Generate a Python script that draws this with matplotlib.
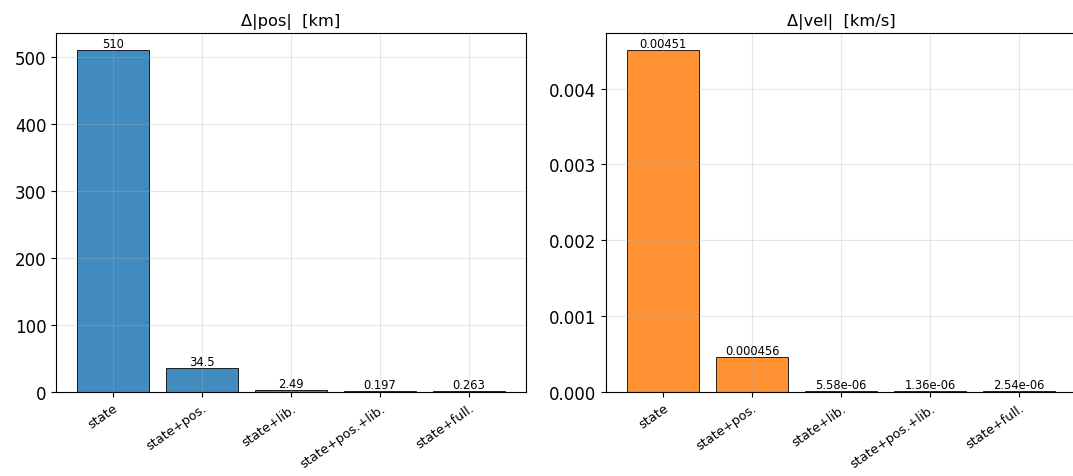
import numpy as np
import matplotlib
matplotlib.use("Agg")
import matplotlib.pyplot as plt

# Final-state error for each estimation configuration
configs = ["state", "state+pos.", "state+lib.", "state+pos.+lib.", "state+full."]
dpos = [510, 34.5, 2.49, 0.197, 0.263]               # km
dvel = [0.00451, 0.000456, 5.58e-06, 1.36e-06, 2.54e-06]  # km/s

fig = plt.figure(figsize=(10.73, 4.77), dpi=100)
ax1 = fig.add_axes([0.0522, 0.177, 0.438, 0.752])
ax2 = fig.add_axes([0.5648, 0.177, 0.438, 0.752])
x = np.arange(len(configs))

for ax, vals, col, title in zip([ax1, ax2], [dpos, dvel], ["C0", "C1"],
                                ["Δ|pos|  [km]", "Δ|vel|  [km/s]"]):
    bars = ax.bar(x, vals, color=col, alpha=0.85, edgecolor="black", linewidth=0.7)
    ax.bar_label(bars, fmt="%.3g", fontsize=8.3)
    ax.set_xticks(x)
    ax.set_xticklabels(configs, rotation=35, ha="right", rotation_mode="anchor", fontsize=9.3)
    ax.tick_params(axis="y", labelsize=12)
    ax.set_title(title, fontsize=11.7)
    ax.grid(True, alpha=0.3)

plt.savefig("out.png")
